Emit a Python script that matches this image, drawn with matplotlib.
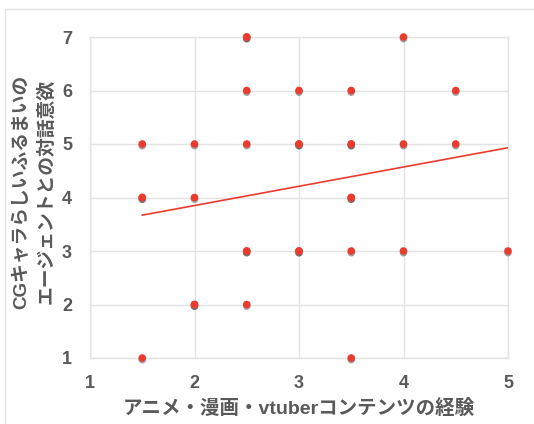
import matplotlib
matplotlib.use("Agg")
import matplotlib.pyplot as plt
from matplotlib.patches import Rectangle
import matplotlib.patheffects as pe

# Data (duplicates shown as darker shadows in the original)
x_vals = [2.5, 2.5, 4,
          2.5, 3, 3.5, 4.5,
          1.5, 2, 2.5, 3, 3, 3.5, 3.5, 4, 4.5,
          1.5, 1.5, 2, 3.5, 3.5,
          2.5, 2.5, 3, 3, 3.5, 4, 5,
          2, 2, 2.5,
          1.5, 3.5]
y_vals = [7, 7, 7,
          6, 6, 6, 6,
          5, 5, 5, 5, 5, 5, 5, 5, 5,
          4, 4, 4, 4, 4,
          3, 3, 3, 3, 3, 3, 3,
          2, 2, 2,
          1, 1]
trend_x = [1.5, 5.0]
trend_y = [3.67, 4.93]

x_ticks = [1, 2, 3, 4, 5]
y_ticks = [1, 2, 3, 4, 5, 6, 7]
x_label = "アニメ・漫画・vtuberコンテンツの経験"
y_label_lines = ["CGキャラらしいふるまいの", "エージェントとの対話意欲"]

fams = ['Liberation Sans', 'Noto Sans CJK JP', 'DejaVu Sans']
plt.rcParams['font.family'] = fams

fig = plt.figure(figsize=(5.34, 4.24), dpi=100)
fig.patches.append(Rectangle((5/534, -0.1), 1.2, 1.1 - 9/424, transform=fig.transFigure,
                             fill=False, edgecolor='#e3e3e3', linewidth=1.0))
ax = fig.add_axes([90/534, 1 - 358/424, 418/534, 321/424])

red = '#ea3b2e'
grid_c = '#e3e3e3'
txt_c = '#595959'

ax.plot(trend_x, trend_y, color=red, linewidth=1.2, zorder=3)
ax.scatter(x_vals, y_vals, s=30, color=red, zorder=4, linewidths=0, clip_on=False,
           path_effects=[pe.SimplePatchShadow(offset=(0, -1.2), shadow_rgbFace='#333333', alpha=0.45),
                         pe.Normal()])

ax.set_xlim(1, 5)
ax.set_ylim(1, 7)
ax.set_xticks(x_ticks)
ax.set_yticks(y_ticks)
ax.grid(True, color=grid_c, linewidth=1.0)
ax.set_axisbelow(True)
for s in ax.spines.values():
    s.set_color(grid_c)
    s.set_linewidth(1.0)
ax.tick_params(length=0, labelcolor=txt_c, labelsize=13)
ax.tick_params(axis='x', pad=12)
ax.tick_params(axis='y', pad=13)
for lab in ax.get_xticklabels() + ax.get_yticklabels():
    lab.set_fontweight('bold')

fig.text(299 / 534, 1 - 408 / 424, x_label, fontsize=14, color=txt_c, fontweight='bold',
         ha='center', va='center')
for i, line in enumerate(y_label_lines):
    fig.text((22 + 24 * i) / 534, 1 - 192 / 424, line, rotation=90, fontsize=13.5,
             color=txt_c, fontweight='bold', ha='center', va='center')

fig.savefig('out.png', dpi=100)
